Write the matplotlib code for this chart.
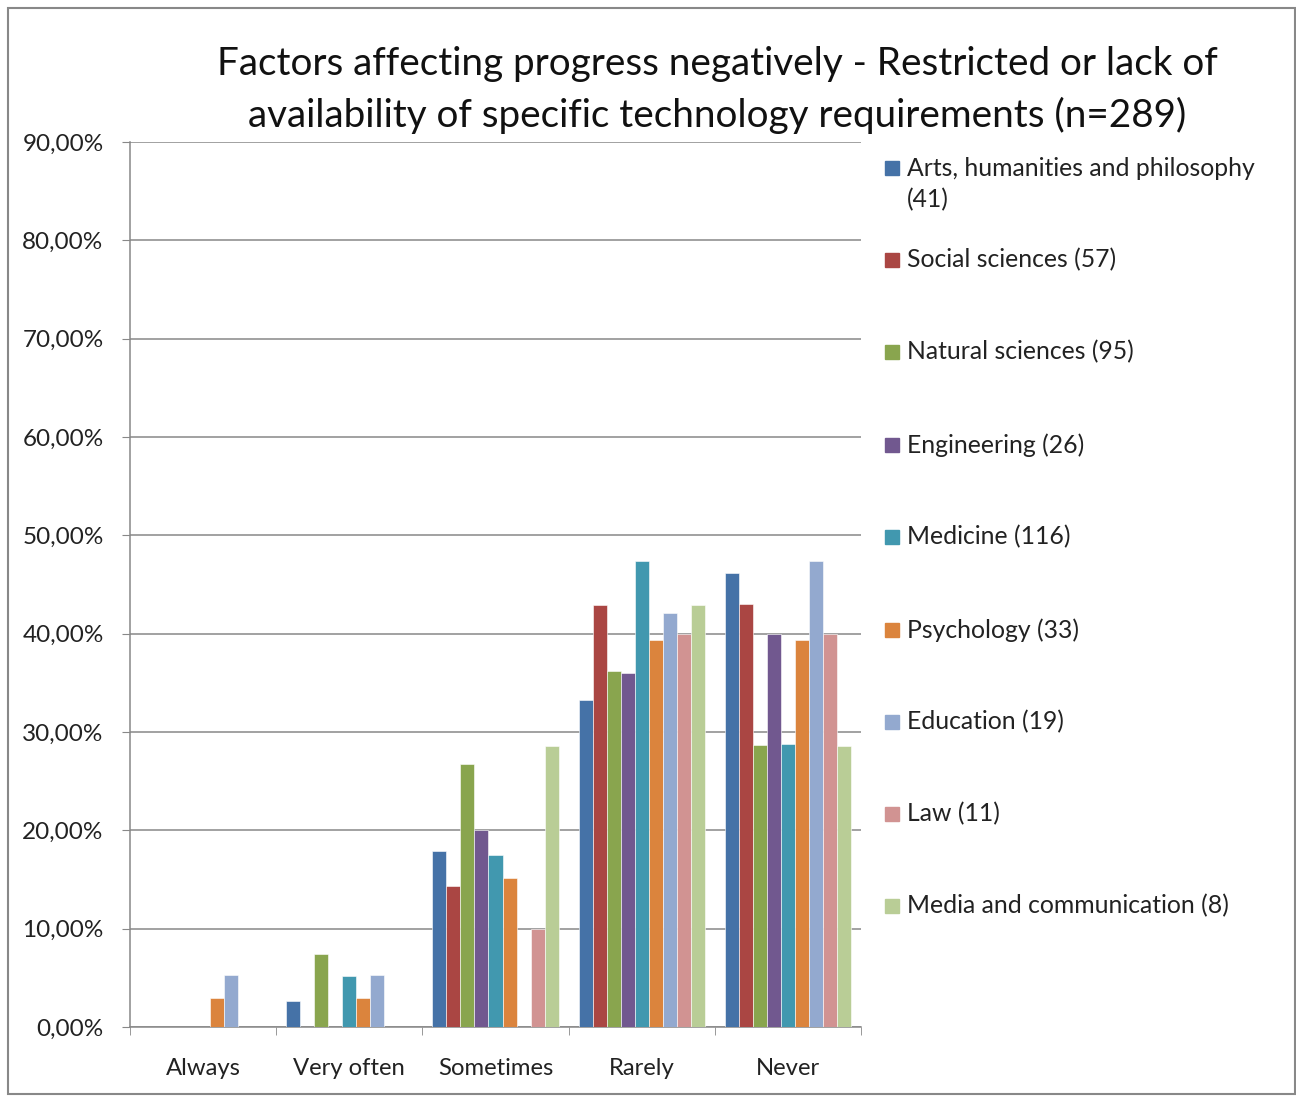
import numpy as np
import matplotlib
matplotlib.use("Agg")
import matplotlib.pyplot as plt
from matplotlib.patches import Rectangle

plt.rcParams["font.family"] = ["Lato", "DejaVu Sans"]

categories = ["Always", "Very often", "Sometimes", "Rarely", "Never"]
series = ["Arts, humanities and philosophy\n(41)", "Social sciences (57)",
          "Natural sciences (95)", "Engineering (26)", "Medicine (116)",
          "Psychology (33)", "Education (19)", "Law (11)",
          "Media and communication (8)"]
colors = ["#4572A7", "#AA4643", "#89A54E", "#71588F", "#4198AF",
          "#DB843D", "#93A9CF", "#D19392", "#B9CD96"]

# percent values per series, in category order
arts = [0.0, 2.6, 17.9, 33.3, 46.2]
social = [0.0, 0.0, 14.3, 42.9, 43.0]
natural = [0.0, 7.4, 26.7, 36.2, 28.7]
engineering = [0.0, 0.0, 20.0, 36.0, 40.0]
medicine = [0.0, 5.2, 17.5, 47.4, 28.8]
psychology = [3.0, 3.0, 15.2, 39.4, 39.4]
education = [5.3, 5.3, 0.0, 42.1, 47.4]
law = [0.0, 0.0, 10.0, 40.0, 40.0]
media = [0.0, 0.0, 28.6, 42.9, 28.6]
values = [arts, social, natural, engineering, medicine, psychology,
          education, law, media]

fig = plt.figure(figsize=(12.96, 10.97), dpi=100)
ax = fig.add_axes([130/1296, 1-1027/1097, (861-130)/1296, (1027-142)/1097])

x = np.arange(len(categories))
w = 0.096
for i, (vals, c) in enumerate(zip(values, colors)):
    ax.bar(x + (i - 4) * w, vals, w, color=c, edgecolor="white",
           linewidth=0.4, zorder=3)

ax.set_xlim(-0.5, 4.5)
ax.set_ylim(0, 90)
ax.set_yticks(np.arange(0, 91, 10))
ax.set_yticklabels([f"{v},00%" for v in range(0, 91, 10)], fontsize=17.5,
                   color="#222222")
ax.yaxis.grid(True, color="#888888", linewidth=1.1, zorder=0)
ax.set_xticks(x)
ax.set_xticklabels(categories, fontsize=17.2, color="#222222")
ax.set_xticks(np.arange(-0.5, 5, 1), minor=True)
ax.tick_params(axis="x", which="major", length=0, pad=22)
ax.tick_params(axis="x", which="minor", length=6, color="#888888")
ax.tick_params(axis="y", length=6, color="#888888", pad=13)
for s in ["top", "right"]:
    ax.spines[s].set_visible(False)
for s in ["left", "bottom"]:
    ax.spines[s].set_color("#888888")
    ax.spines[s].set_linewidth(1.1)

fig.text(717/1296, 1-90/1097,
         "Factors affecting progress negatively - Restricted or lack of\n"
         "availability of specific technology requirements (n=289)",
         ha="center", va="center", fontsize=27.8, linespacing=1.5,
         color="#111111")

# legend drawn by hand so entries line up like the original
leg_y = [168, 260, 352, 445, 537, 630, 722, 814, 906]
for lab, c, yy in zip(series, colors, leg_y):
    fig.patches.append(Rectangle((885/1296, 1-(yy+7)/1097), 14/1296, 14/1097,
                                 transform=fig.transFigure, color=c))
    nlines = lab.count("\n") + 1
    fig.text(907/1296, 1-(yy + 16*(nlines-1))/1097, lab, ha="left",
             va="center", fontsize=17.8, linespacing=1.45, color="#222222")

fig.patches.append(Rectangle((8/1296, 3/1097), 1287/1296, 1086/1097,
                             transform=fig.transFigure, fill=False,
                             edgecolor="#888888", linewidth=1.5))

fig.savefig("out.png", dpi=100, facecolor="white")
